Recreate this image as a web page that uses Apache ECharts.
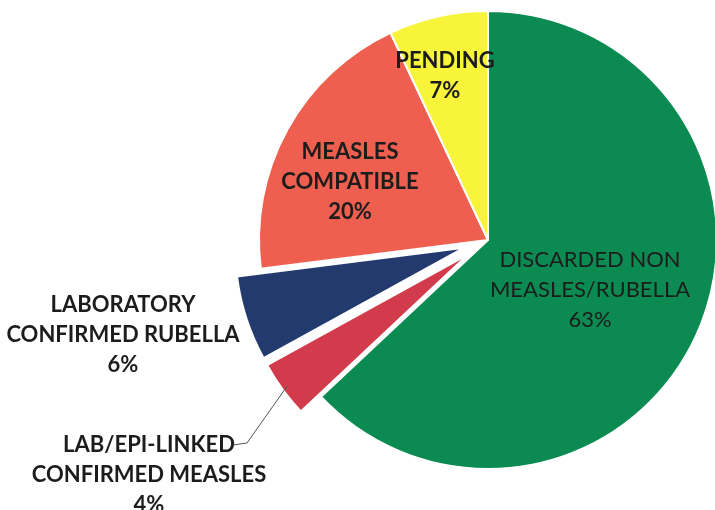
<!DOCTYPE html>
<html>
<head>
<meta charset="utf-8">
<script src="https://cdn.jsdelivr.net/npm/echarts@6/dist/echarts.min.js"></script>
<style>
html,body{margin:0;padding:0;background:#fff;}
#chart{width:715px;height:510px;}
</style>
</head>
<body>
<div id="chart"></div>
<script>
var categories = [
  'DISCARDED NON\nMEASLES/RUBELLA',
  'LAB/EPI-LINKED\nCONFIRMED MEASLES',
  'LABORATORY\nCONFIRMED RUBELLA',
  'MEASLES\nCOMPATIBLE',
  'PENDING'
];
var values = [63, 4, 6, 20, 7];
var exploded = [false, true, true, false, false];

var colors = ['#0b8a52', '#d23b4b', '#233a6e', '#ef5f4f', '#f8f43a'];
var labelWeights = ['normal', 'bold', 'bold', 'bold', 'bold'];
var labelAnchors = [[590, 290], [149, 475], [123, 335], [350, 182], [445, 76]];

var CX = 488, CY = 240, R = 229, EXPLODE = 25, LINE_H = 30;

var chart = echarts.init(document.getElementById('chart'), null, {renderer: 'canvas'});

var total = values.reduce(function (s, v) { return s + v; }, 0);

function pieSeries(visibleFn, center, withLabels) {
  return {
    type: 'pie',
    center: center,
    radius: R,
    startAngle: 90,
    clockwise: true,
    silent: true,
    avoidLabelOverlap: false,
    label: withLabels ? {
      show: true,
      position: 'inside',
      formatter: function (p) { return p.name + '\n' + p.value + '%'; },
      fontFamily: 'Lato',
      fontSize: 22,
      lineHeight: LINE_H,
      color: '#1c1c1c',
      align: 'center'
    } : {show: false},
    labelLine: {show: false},
    labelLayout: withLabels ? function (p) {
      var a = labelAnchors[p.dataIndex];
      return {x: a[0], y: a[1], align: 'center', verticalAlign: 'middle'};
    } : null,
    emphasis: {disabled: true},
    data: categories.map(function (c, i) {
      var vis = visibleFn(i);
      return {
        name: c,
        value: values[i],
        itemStyle: vis ? {color: colors[i], borderColor: '#ffffff', borderWidth: 2}
                       : {color: 'rgba(0,0,0,0)', borderWidth: 0},
        label: {fontWeight: labelWeights[i]}
      };
    })
  };
}

var series = [pieSeries(function (i) { return !exploded[i]; }, [CX, CY], true)];

var leaderStart = null;
var cum = 0;
values.forEach(function (v, i) {
  var mid = (cum + v / 2) / total * 2 * Math.PI;
  cum += v;
  if (exploded[i]) {
    var c = [CX + EXPLODE * Math.sin(mid), CY - EXPLODE * Math.cos(mid)];
    series.push(pieSeries(function (j) { return j === i; }, c, false));
    if (i === 1) {
      // leader line starts just inside the outer edge of the exploded slice
      var rr = R - 6;
      leaderStart = [c[0] + rr * Math.sin(mid), c[1] - rr * Math.cos(mid)];
    }
  }
});

// leader line for the LAB/EPI-LINKED label: ends beside its first text line
var la = labelAnchors[1];
var firstLineY = la[1] - LINE_H;
var leaderEnd = [la[0] + 84, firstLineY];
var leaderElbow = [leaderEnd[0] + 14, firstLineY - 2];

chart.setOption({
  animation: false,
  series: series,
  graphic: [{
    type: 'polyline',
    silent: true,
    z: 10,
    shape: {points: [leaderStart, leaderElbow, leaderEnd]},
    style: {stroke: '#555', lineWidth: 1, fill: null}
  }]
});
</script>
</body>
</html>
